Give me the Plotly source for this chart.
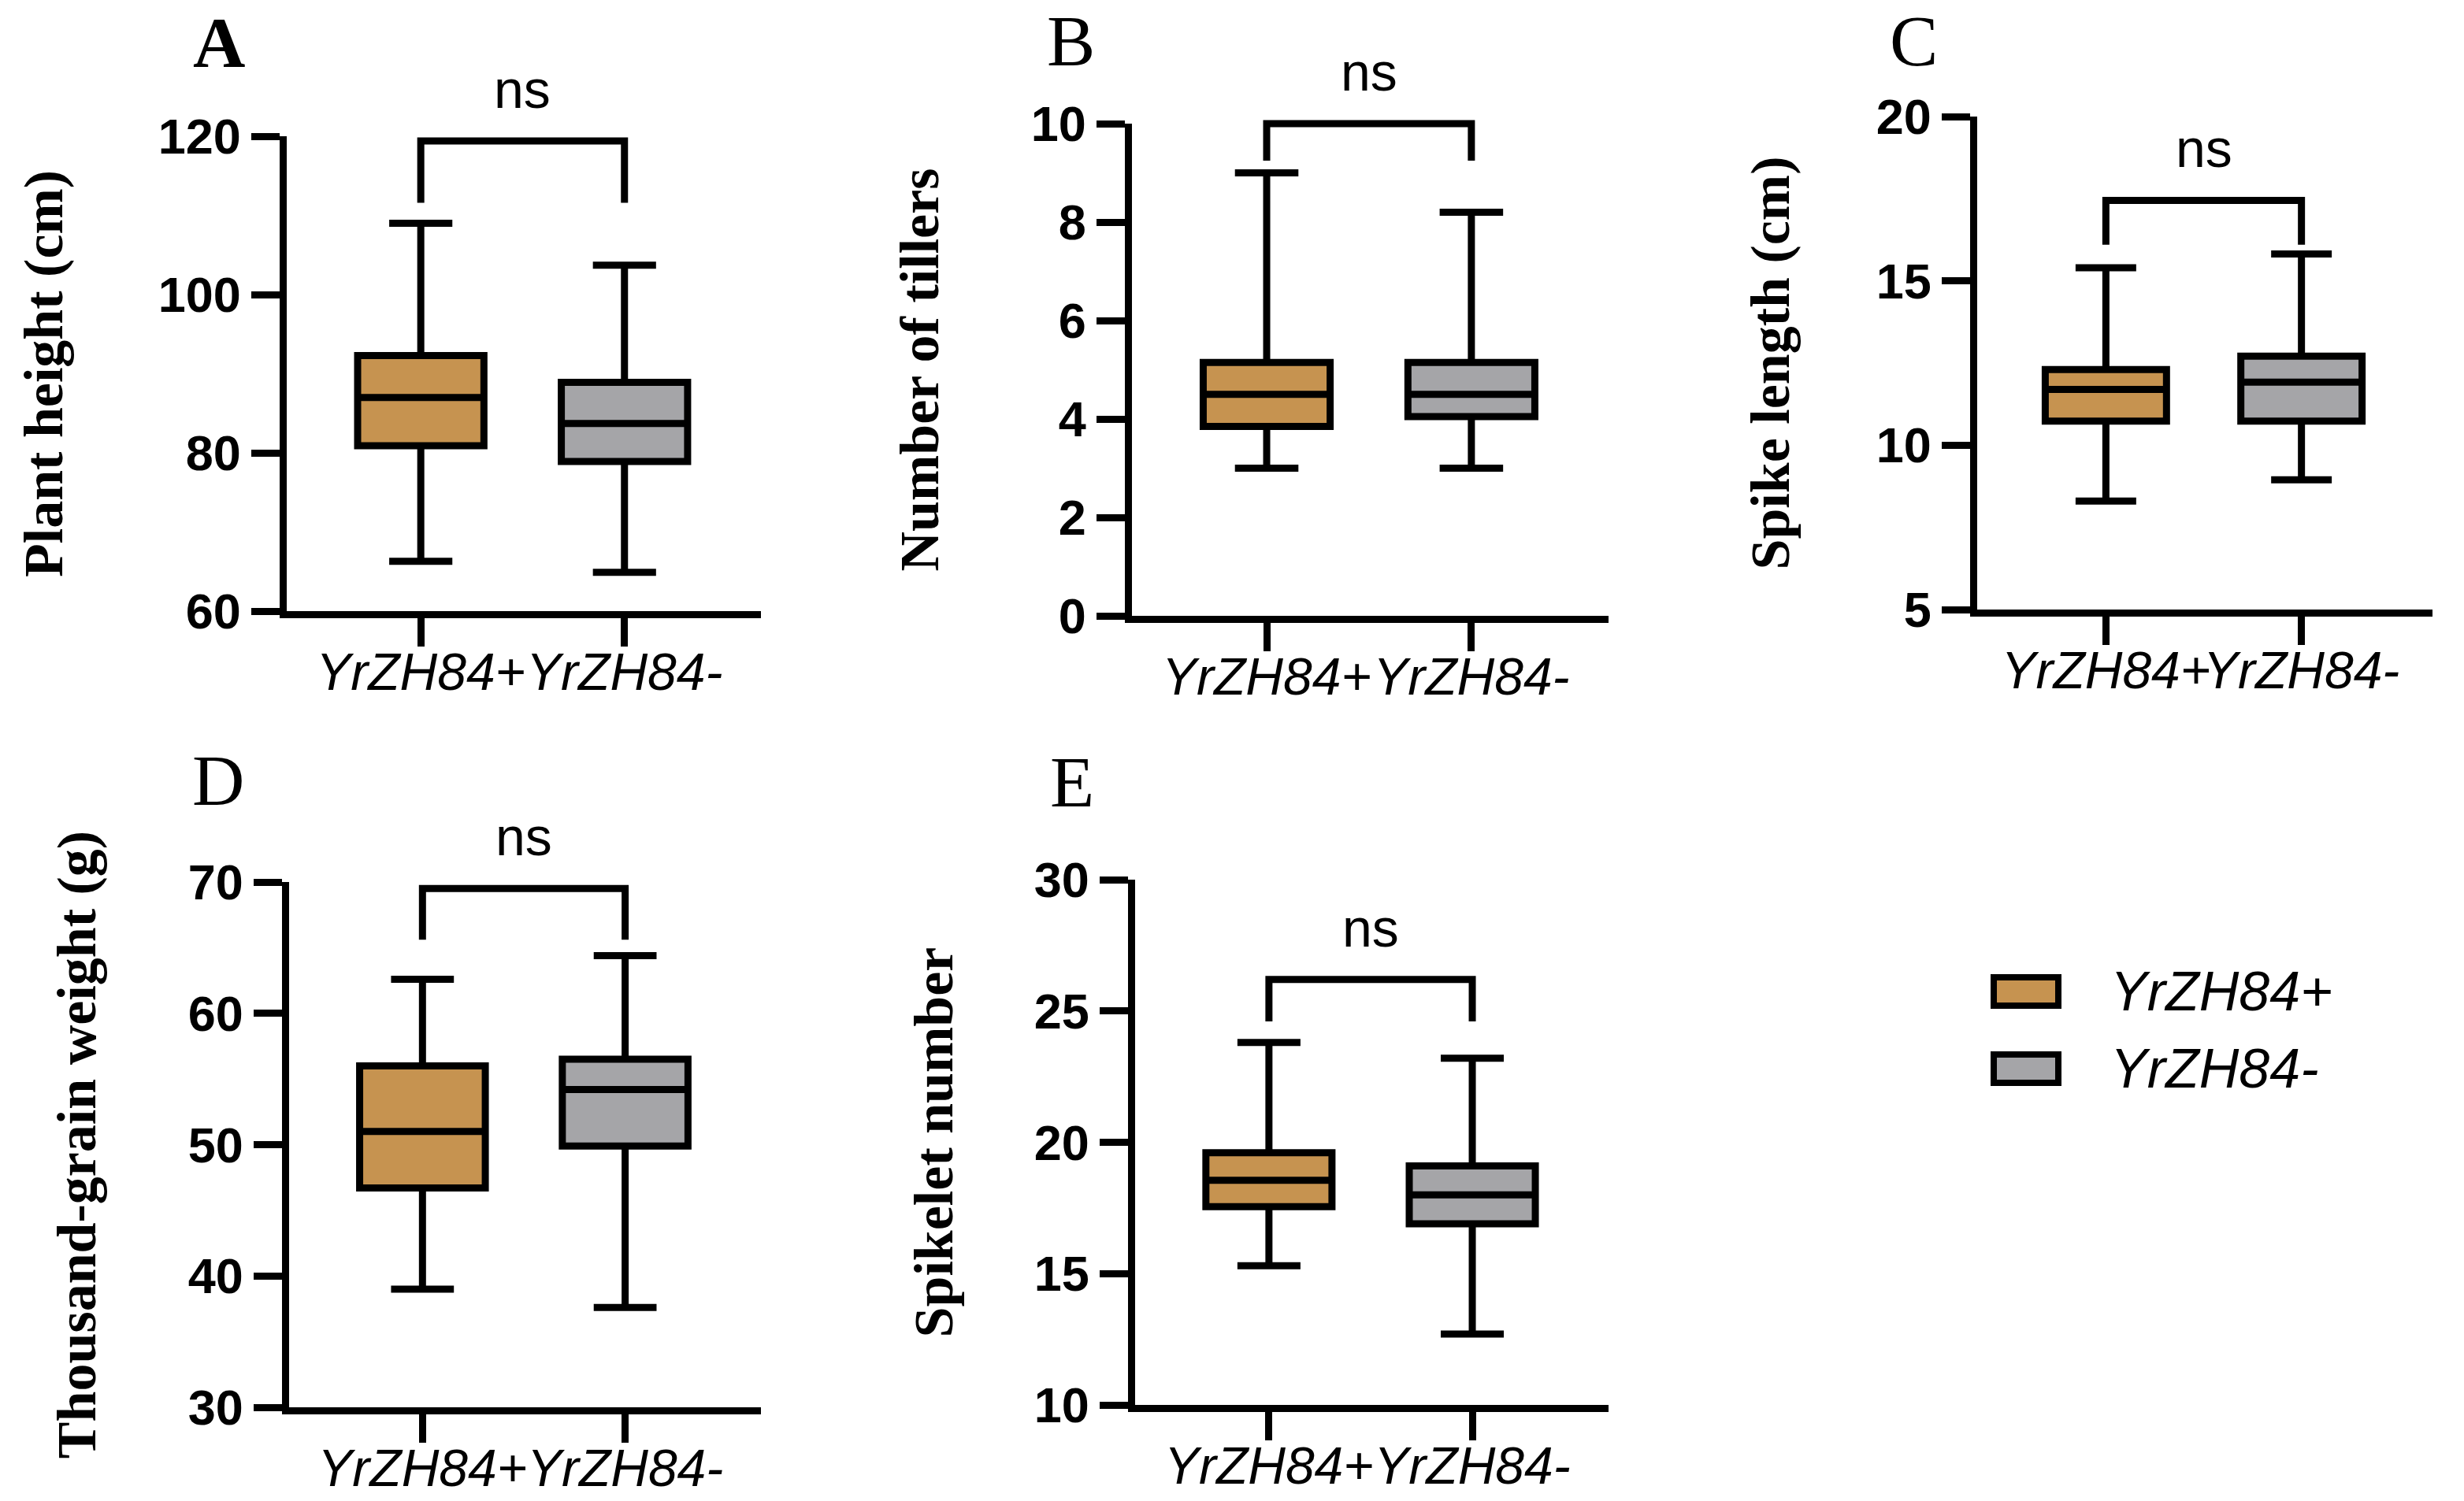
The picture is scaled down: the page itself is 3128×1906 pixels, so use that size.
import plotly.graph_objects as go

W, H = 3128, 1906

# ---- data ----
groups = ["YrZH84+", "YrZH84-"]
traits = ["Plant height (cm)", "Number of tillers", "Spike length (cm)",
          "Thousand-grain weight (g)", "Spikelet number"]
panel_tags = ["A", "B", "C", "D", "E"]

plus_min = [66.3, 3.0, 8.3, 39.0, 15.3]
plus_q1 = [80.9, 3.85, 10.73, 46.7, 17.55]
plus_med = [87.0, 4.5, 11.7, 51.0, 18.55]
plus_q3 = [92.3, 5.15, 12.3, 56.0, 19.6]
plus_max = [109.0, 9.0, 15.4, 62.6, 23.8]

minus_min = [64.9, 3.0, 8.95, 37.6, 12.7]
minus_q1 = [78.9, 4.05, 10.73, 49.9, 16.9]
minus_med = [83.7, 4.5, 11.92, 54.2, 18.0]
minus_q3 = [88.9, 5.15, 12.71, 56.5, 19.1]
minus_max = [103.7, 8.2, 15.82, 64.4, 23.2]

y_ranges = [[60, 120], [0, 10], [5, 20], [30, 70], [10, 30]]
y_dticks = [20, 2, 5, 10, 5]

# significance brackets: (bar height, leg end) in data units
bracket_top = [119.4, 10.0, 17.45, 69.5, 26.2]
bracket_leg = [111.6, 9.25, 16.1, 65.6, 24.6]

# ---- layout ----
# axis-line positions in pixels: y-axis x, x-axis right end, top tick, bottom tick
frames = [(359, 966, 173, 776), (1432, 2042, 157, 782), (2505, 3088, 148, 774),
          (362, 966, 1120, 1787), (1436, 2042, 1117, 1784)]
title_standoff = [102, 98, 91, 98, 84]
X_RANGE = [-0.66, 1.67]
colors = ["#C69350", "#A5A5A8"]
LW = 9

def xd(v):
    return (v - X_RANGE[0]) / (X_RANGE[1] - X_RANGE[0])

def yd(v, i):
    lo, hi = y_ranges[i]
    return (v - lo) / (hi - lo)

fig = go.Figure()

for i in range(5):
    n = "" if i == 0 else str(i + 1)
    stats = [(plus_min, plus_q1, plus_med, plus_q3, plus_max),
             (minus_min, minus_q1, minus_med, minus_q3, minus_max)]
    for g, (lo, q1, md, q3, hi), c in zip(groups, stats, colors):
        fig.add_trace(go.Box(
            x=[g], lowerfence=[lo[i]], q1=[q1[i]], median=[md[i]], q3=[q3[i]],
            upperfence=[hi[i]], xaxis="x" + n, yaxis="y" + n,
            fillcolor=c, line=dict(color="black", width=LW),
            width=0.62, whiskerwidth=0.5, boxpoints=False,
            showlegend=False, hoverinfo="skip"))

    ax, xr, t, b = frames[i]
    left = ax + LW / 2  # axis line sits just outside the plot area
    fig.layout["xaxis" + n] = dict(
        domain=[left / W, xr / W], anchor="y" + n, range=X_RANGE,
        type="category", categoryorder="array", categoryarray=groups,
        showline=True, linewidth=LW, linecolor="black",
        ticks="outside", ticklen=36, tickwidth=LW, tickcolor="black",
        tickangle=0, ticklabelstandoff=-24,
        showgrid=False, zeroline=False, automargin=False,
        tickfont=dict(family="Liberation Sans", size=66, style="italic", color="black"))
    fig.layout["yaxis" + n] = dict(
        domain=[1 - b / H, 1 - t / H], anchor="x" + n, range=y_ranges[i],
        tick0=y_ranges[i][0], dtick=y_dticks[i],
        showline=True, linewidth=LW, linecolor="black",
        ticks="outside", ticklen=36, tickwidth=LW, tickcolor="black",
        showgrid=False, zeroline=False, automargin=False,
        tickfont=dict(family="Liberation Sans", size=63, weight="bold", color="black"),
        title=dict(text=traits[i], standoff=title_standoff[i],
                   font=dict(family="Liberation Serif", size=70, weight="bold", color="black")))

    # bracket + ns
    path = (f"M{xd(0)},{yd(bracket_leg[i], i)} L{xd(0)},{yd(bracket_top[i], i)} "
            f"L{xd(1)},{yd(bracket_top[i], i)} L{xd(1)},{yd(bracket_leg[i], i)}")
    fig.add_shape(type="path", path=path, xref="x" + n + " domain", yref="y" + n + " domain",
                  line=dict(color="black", width=LW))
    fig.add_annotation(text="ns", x=xd(0.5), y=yd(bracket_top[i], i),
                       xref="x" + n + " domain", yref="y" + n + " domain",
                       yshift=66, showarrow=False, yanchor="middle",
                       font=dict(family="Liberation Sans", size=68, color="black"))

# panel letters
tag_pos = [(278, 54), (1359, 52), (2429, 52), (277, 991), (1361, 993)]
for tag, (px, py) in zip(panel_tags, tag_pos):
    fig.add_annotation(text=tag, x=px / W, y=1 - py / H, xref="paper", yref="paper",
                       showarrow=False, xanchor="center", yanchor="middle", borderpad=0,
                       font=dict(family="Liberation Serif", size=92, color="black",
                                 weight="bold" if tag == "A" else "normal"))

# legend drawn by hand (large rectangular keys)
leg_rows = [1259, 1357]
for g, c, cy in zip(groups, colors, leg_rows):
    fig.add_shape(type="rect", xref="paper", yref="paper",
                  x0=2531 / W, x1=2613 / W, y0=1 - (cy - 18) / H, y1=1 - (cy + 18) / H,
                  fillcolor=c, line=dict(color="black", width=8))
    fig.add_annotation(text=g, x=2677 / W, y=1 - cy / H, xref="paper", yref="paper",
                       showarrow=False, xanchor="left", yanchor="middle",
                       font=dict(family="Liberation Sans", size=70, style="italic", color="black"))

fig.update_layout(width=W, height=H, margin=dict(l=0, r=0, t=0, b=0),
                  paper_bgcolor="white", plot_bgcolor="white", showlegend=False)

# page body margin off so the figure starts at the window corner
fig.write_html("out.html", config={"displayModeBar": False},
               post_script="document.body.style.margin='0px';")
